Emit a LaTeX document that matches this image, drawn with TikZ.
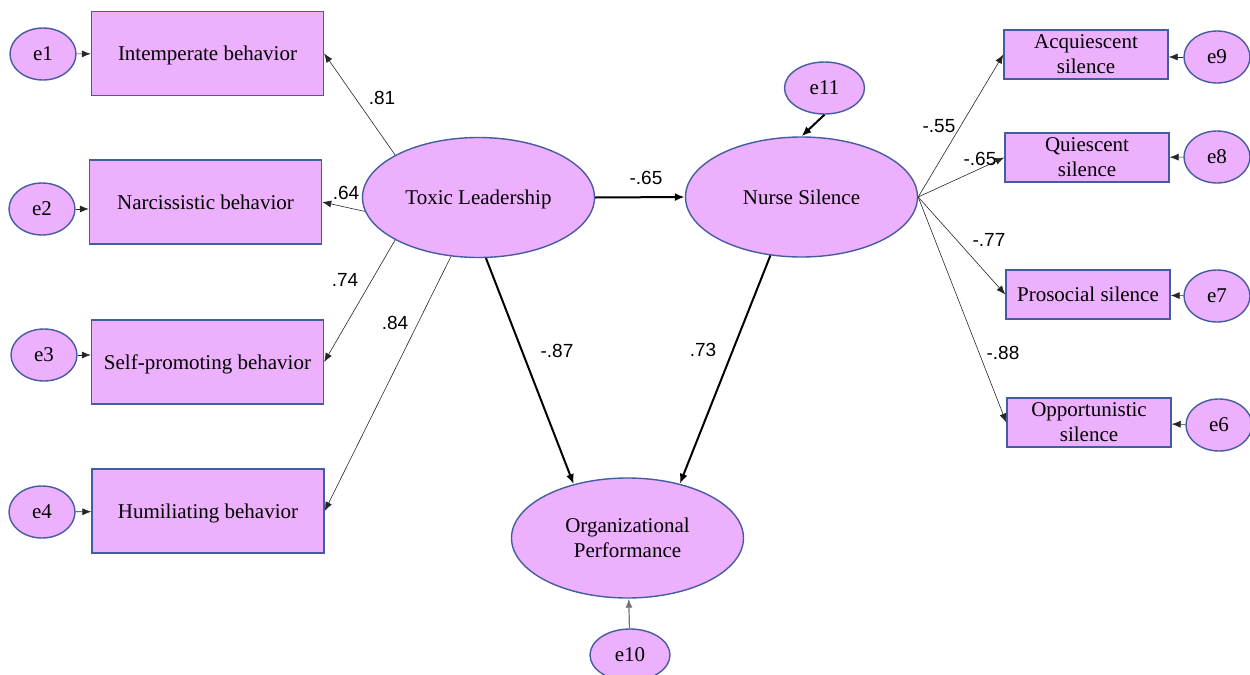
\documentclass[tikz,border=0pt]{standalone}
\usepackage{fontspec}
\setmainfont{Liberation Serif}
\setsansfont{Liberation Sans}
\usetikzlibrary{arrows.meta,shapes.geometric}
\definecolor{boxfill}{RGB}{236,176,252}
\definecolor{boxline}{RGB}{70,92,162}
\begin{document}
\begin{tikzpicture}[x=0.5pt,y=-0.5pt,
    obs/.style={draw=boxline,fill=boxfill,line width=0.7pt,rectangle,inner sep=0pt,
        minimum width=116pt,minimum height=42pt,font=\fontsize{10.5}{12.5}\selectfont},
    ind/.style={obs,minimum width=82pt,minimum height=24.5pt,align=center},
    lat/.style={draw=boxline,fill=boxfill,line width=0.7pt,ellipse,inner sep=0pt,
        minimum width=116pt,minimum height=60pt,align=center,font=\fontsize{10.5}{12.5}\selectfont},
    err/.style={lat,minimum width=33pt,minimum height=26pt},
    thinpath/.style={-{Latex[length=4.5pt,width=3.5pt]},line width=0.3pt,black!85},
    thickpath/.style={-{Latex[length=5pt,width=4pt]},line width=1pt},
    lbl/.style={font=\sffamily\fontsize{9.5}{10}\selectfont,inner sep=0pt}]
    \useasboundingbox (0,0) rectangle (1250,675);
    \node[obs,text depth=0pt] (intemp) at (207.5,53.5) {Intemperate behavior};
    \node[obs,text depth=0pt] (narc) at (205.5,202) {Narcissistic behavior};
    \node[obs,text depth=0pt] (selfp) at (207.5,362) {Self-promoting behavior};
    \node[obs,text depth=0pt] (humil) at (208,511) {Humiliating behavior};
    \node[err] (e1) at (43,54) {e1};
    \node[err] (e2) at (42,209) {e2};
    \node[err] (e3) at (44,355) {e3};
    \node[err] (e4) at (42,512) {e4};
    \node[lat,text depth=0pt] (toxic) at (478.5,197.5) {Toxic Leadership};
    \node[lat] (nurse) at (801.5,197) {Nurse Silence};
    \node[lat] (orgp) at (627.5,538) {Organizational\\Performance};
    \node[err,minimum width=40pt] (e10) at (630,655) {e10};
    \node[err,minimum width=40pt] (e11) at (824.5,88) {e11};
    \node[ind] (acq) at (1086,54.5) {Acquiescent\\silence};
    \node[ind] (quie) at (1087,157.5) {Quiescent\\silence};
    \node[ind,text depth=0pt] (pros) at (1088,294.5) {Prosocial silence};
    \node[ind] (oppo) at (1089,422.5) {Opportunistic\\silence};
    \node[err] (e9) at (1217,57) {e9};
    \node[err] (e8) at (1217,157) {e8};
    \node[err] (e7) at (1217,296) {e7};
    \node[err] (e6) at (1219,425) {e6};
    \draw[thinpath] (e1) -- (intemp);
    \draw[thinpath] (e2) -- (narc.west |- e2);
    \draw[thinpath] (e3) -- (selfp.west |- e3);
    \draw[thinpath] (e4) -- (humil);
    \draw[thinpath] (toxic.153) -- (intemp.east);
    \draw[thinpath] (toxic.187) -- (narc.east);
    \draw[thinpath] (toxic.207) -- (selfp.east);
    \draw[thinpath] (toxic.245) -- (humil.east);
    \draw[thickpath] (toxic.east) -- (nurse.west);
    \draw[thickpath] (toxic.-83) -- (orgp.135);
    \draw[thickpath] (nurse.-118) -- (orgp.46);
    \draw[thickpath] (e11.south) -- (nurse.north);
    \draw[thinpath,black!55,line width=0.6pt] (e10) -- (orgp);
    \draw[thinpath] (nurse.east) -- (acq.west);
    \draw[thinpath] (nurse.east) -- (quie.west);
    \draw[thinpath] (nurse.east) -- (pros.west);
    \draw[thinpath] (nurse.east) -- (oppo.west);
    \draw[thinpath] (e9) -- (acq.east |- e9);
    \draw[thinpath] (e8) -- (quie);
    \draw[thinpath] (e7) -- (pros);
    \draw[thinpath] (e6) -- (oppo);
    \node[lbl] (l81) at (382,98) {.81};
    \node[lbl] (l64) at (346,193) {.64};
    \node[lbl] (l74) at (345,280) {.74};
    \node[lbl] (l84) at (395,323) {.84};
    \node[lbl] (lTN) at (646,178) {-.65};
    \node[lbl] (lTO) at (557,351) {-.87};
    \node[lbl] (lNO) at (703,350) {.73};
    \node[lbl] (l55) at (939,126) {-.55};
    \node[lbl] (l65) at (980,159) {-.65};
    \node[lbl] (l77) at (989,240) {-.77};
    \node[lbl] (l88) at (1003,353) {-.88};
\end{tikzpicture}
\end{document}
